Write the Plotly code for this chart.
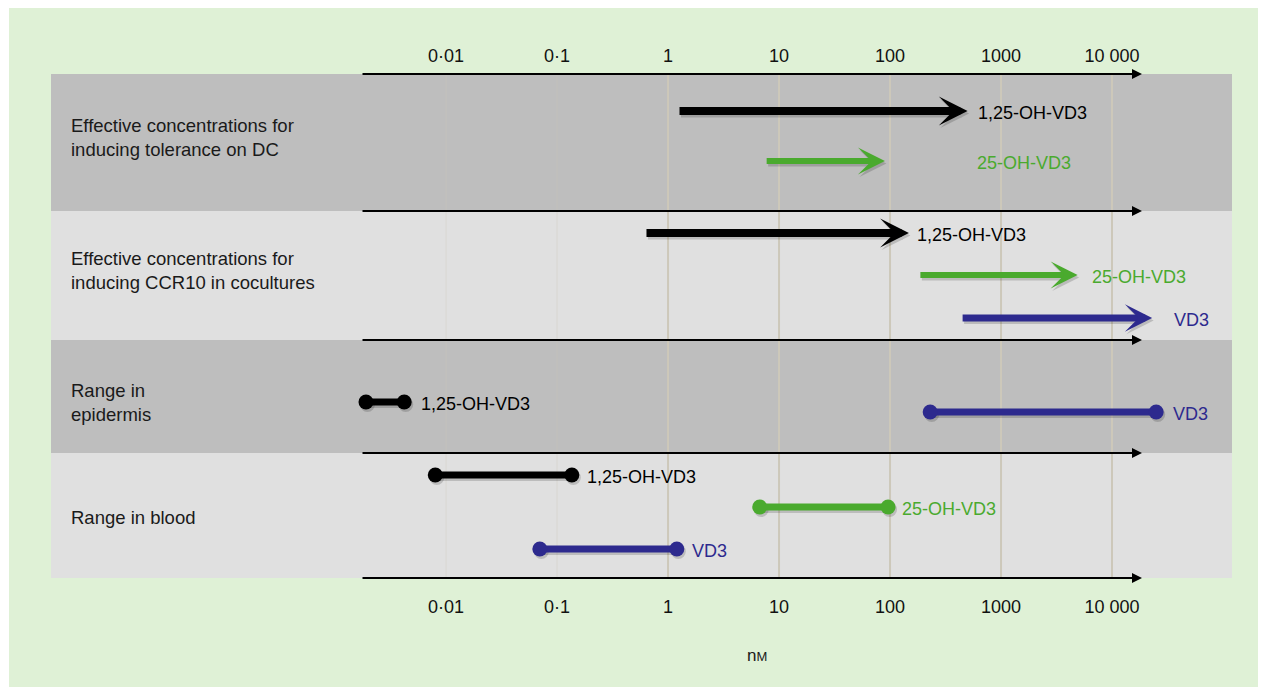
import numpy as np
import plotly.graph_objects as go

# ---------------- data ----------------
row_labels = [
    "Effective concentrations for<br>inducing tolerance on DC",
    "Effective concentrations for<br>inducing CCR10 in cocultures",
    "Range in<br>epidermis",
    "Range in blood",
]
tick_vals = [0.01, 0.1, 1, 10, 100, 1000, 10000]
tick_text = ["0·01", "0·1", "1", "10", "100", "1000", "10 000"]
unit_label = "n<span style='font-size:13px'>M</span>"

# Row 1: effective concentrations, tolerance on DC (arrows)
tol_compounds = ["1,25-OH-VD3", "25-OH-VD3"]
tol_low = [1.23, 7.5]
tol_high = [500, 90]

# Row 2: effective concentrations, CCR10 in cocultures (arrows)
ccr_compounds = ["1,25-OH-VD3", "25-OH-VD3", "VD3"]
ccr_low = [0.62, 182, 437]
ccr_high = [148, 4900, 23000]

# Row 3: range in epidermis (ranges)
epi_compounds = ["1,25-OH-VD3", "VD3"]
epi_low = [0.0019, 230]
epi_high = [0.0042, 25000]

# Row 4: range in blood (ranges)
blood_compounds = ["1,25-OH-VD3", "25-OH-VD3", "VD3"]
blood_low = [0.008, 6.7, 0.07]
blood_high = [0.136, 96, 1.2]

# ---------------- layout / style ----------------
OFF = 8  # page body margin compensation
W, H = 1269 - OFF, 687 - OFF
ML, MR, MT, MB = 51 - OFF, 37, 74 - OFF, 109
PLOT_W = W - ML - MR
PLOT_H = H - MT - MB  # 504
XRANGE = [-5.559, 5.081]          # log10 nM across the panel
AXIS_START, AXIS_END = -2.766, 4.27   # log10 extent of the drawn axis arrows
BAND_EDGES = [0, 137, 266, 379, PLOT_H]
BAND_COLORS = ["#bebebe", "#e0e0e0", "#bebebe", "#e0e0e0"]
ROW_LABEL_Y = [63, 196, 328, 443]
SERIES_Y = [[37, 87], [159, 201, 244], [328, 338], [401, 433, 475]]
LABEL_SHIFT = [[8, 90], [6, 12, 20], [15, 15], [13, 12, 13]]
COLORS = {"1,25-OH-VD3": "#000000", "25-OH-VD3": "#4aaa2e", "VD3": "#2d2a8e"}
ARROW_W = {"1,25-OH-VD3": 8, "25-OH-VD3": 6, "VD3": 7}
HEAD_SIZE = {"1,25-OH-VD3": 0.6, "25-OH-VD3": 0.75, "VD3": 0.65}
FONT = "Liberation Sans, Arial, Helvetica, sans-serif"
GREEN_BG = "#dff1d6"
GRID_COLOR = "#cdc8ba"
SHADOW = "rgba(0,0,0,0.16)"
PX_PER_DEC = PLOT_W / (XRANGE[1] - XRANGE[0])

fig = go.Figure()
shapes = []
annotations = []


def px_x(px):
    return (px - OFF - ML) / PLOT_W


def px_y(py):
    return (H - MB - (py - OFF)) / PLOT_H


# green background
shapes.append(dict(type="rect", xref="paper", yref="paper",
                   x0=px_x(9), x1=px_x(1258), y0=px_y(690), y1=px_y(7),
                   fillcolor=GREEN_BG, line=dict(width=0), layer="below"))
# bands
for i in range(4):
    shapes.append(dict(type="rect", xref="paper", yref="y", x0=0, x1=1,
                       y0=BAND_EDGES[i], y1=BAND_EDGES[i + 1],
                       fillcolor=BAND_COLORS[i], line=dict(width=0), layer="below"))
# vertical grid lines (shape x on a log axis uses data values)
for v in tick_vals:
    faint = v < 1
    shapes.append(dict(type="line", xref="x", yref="paper",
                       x0=v, x1=v, y0=0, y1=1,
                       line=dict(color="rgba(205,200,186,0.35)" if faint else GRID_COLOR,
                                 width=1 if faint else 2), layer="below"))

# axis arrows at each band edge
for e in BAND_EDGES:
    annotations.append(dict(x=AXIS_END, y=e, ax=AXIS_START, ay=e, xref="x", yref="y",
                            axref="x", ayref="y", text="", showarrow=True,
                            arrowhead=2, arrowsize=1, arrowwidth=2, arrowcolor="#000000",
                            standoff=0, startstandoff=0))

# row labels
for i, lab in enumerate(row_labels):
    annotations.append(dict(x=px_x(69), y=ROW_LABEL_Y[i], xref="paper", yref="y",
                            text=lab, showarrow=False, xanchor="left", yanchor="middle",
                            align="left", font=dict(family=FONT, size=18.5, color="#1a1a1a")))


def add_label(x_high, y, comp, shift):
    annotations.append(dict(x=np.log10(x_high), y=y, xref="x", yref="y", text=comp,
                            showarrow=False, xanchor="left", yanchor="middle",
                            xshift=shift, yshift=-1.5,
                            font=dict(family=FONT, size=18, color=COLORS[comp])))


def add_arrows(comps, lows, highs, ys, shifts):
    for c, lo, hi, y, s in zip(comps, lows, highs, ys, shifts):
        for shadow in (True, False):
            annotations.append(dict(x=np.log10(hi), y=y, ax=np.log10(lo), ay=y,
                                    xref="x", yref="y", axref="x", ayref="y", text="",
                                    showarrow=True, arrowhead=3, arrowsize=HEAD_SIZE[c],
                                    arrowwidth=ARROW_W[c],
                                    arrowcolor=SHADOW if shadow else COLORS[c],
                                    xshift=1.5 if shadow else 0, yshift=-2.5 if shadow else 0,
                                    standoff=0, startstandoff=0))
        add_label(hi, y, c, s)


def add_ranges(comps, lows, highs, ys, shifts):
    f = 10 ** (1.5 / PX_PER_DEC)
    for c, lo, hi, y, s in zip(comps, lows, highs, ys, shifts):
        fig.add_trace(go.Scatter(x=[lo * f, hi * f], y=[y + 2.5, y + 2.5], mode="lines+markers",
                                 line=dict(color=SHADOW, width=7),
                                 marker=dict(color=SHADOW, size=15),
                                 hoverinfo="skip", showlegend=False))
        fig.add_trace(go.Scatter(x=[lo, hi], y=[y, y], mode="lines+markers",
                                 line=dict(color=COLORS[c], width=7),
                                 marker=dict(color=COLORS[c], size=15),
                                 hoverinfo="skip", showlegend=False))
        add_label(hi, y, c, s)


add_arrows(tol_compounds, tol_low, tol_high, SERIES_Y[0], LABEL_SHIFT[0])
add_arrows(ccr_compounds, ccr_low, ccr_high, SERIES_Y[1], LABEL_SHIFT[1])
add_ranges(epi_compounds, epi_low, epi_high, SERIES_Y[2], LABEL_SHIFT[2])
add_ranges(blood_compounds, blood_low, blood_high, SERIES_Y[3], LABEL_SHIFT[3])

# invisible trace for the top axis
fig.add_trace(go.Scatter(x=[1], y=[-1000], xaxis="x2", mode="markers",
                         marker=dict(opacity=0), hoverinfo="skip", showlegend=False))

# unit label
annotations.append(dict(x=px_x(757), y=px_y(655), xref="paper", yref="paper",
                        text=unit_label, showarrow=False, xanchor="center", yanchor="middle",
                        font=dict(family=FONT, size=17, color="#1a1a1a")))

axis_common = dict(type="log", range=XRANGE, tickvals=tick_vals, ticktext=tick_text,
                   showgrid=False, zeroline=False, showline=False, ticks="outside",
                   tickcolor="rgba(0,0,0,0)",
                   tickfont=dict(family=FONT, size=18, color="#111111"))

fig.update_layout(
    width=W, height=H,
    margin=dict(l=ML, r=MR, t=MT, b=MB, pad=0),
    paper_bgcolor="#ffffff", plot_bgcolor="rgba(0,0,0,0)",
    xaxis=dict(**axis_common, ticklen=12),
    xaxis2=dict(**axis_common, ticklen=4, overlaying="x", side="top", matches="x"),
    yaxis=dict(range=[PLOT_H, 0], visible=False, fixedrange=True),
    shapes=shapes, annotations=annotations, showlegend=False,
)

fig.write_html("out.html")
